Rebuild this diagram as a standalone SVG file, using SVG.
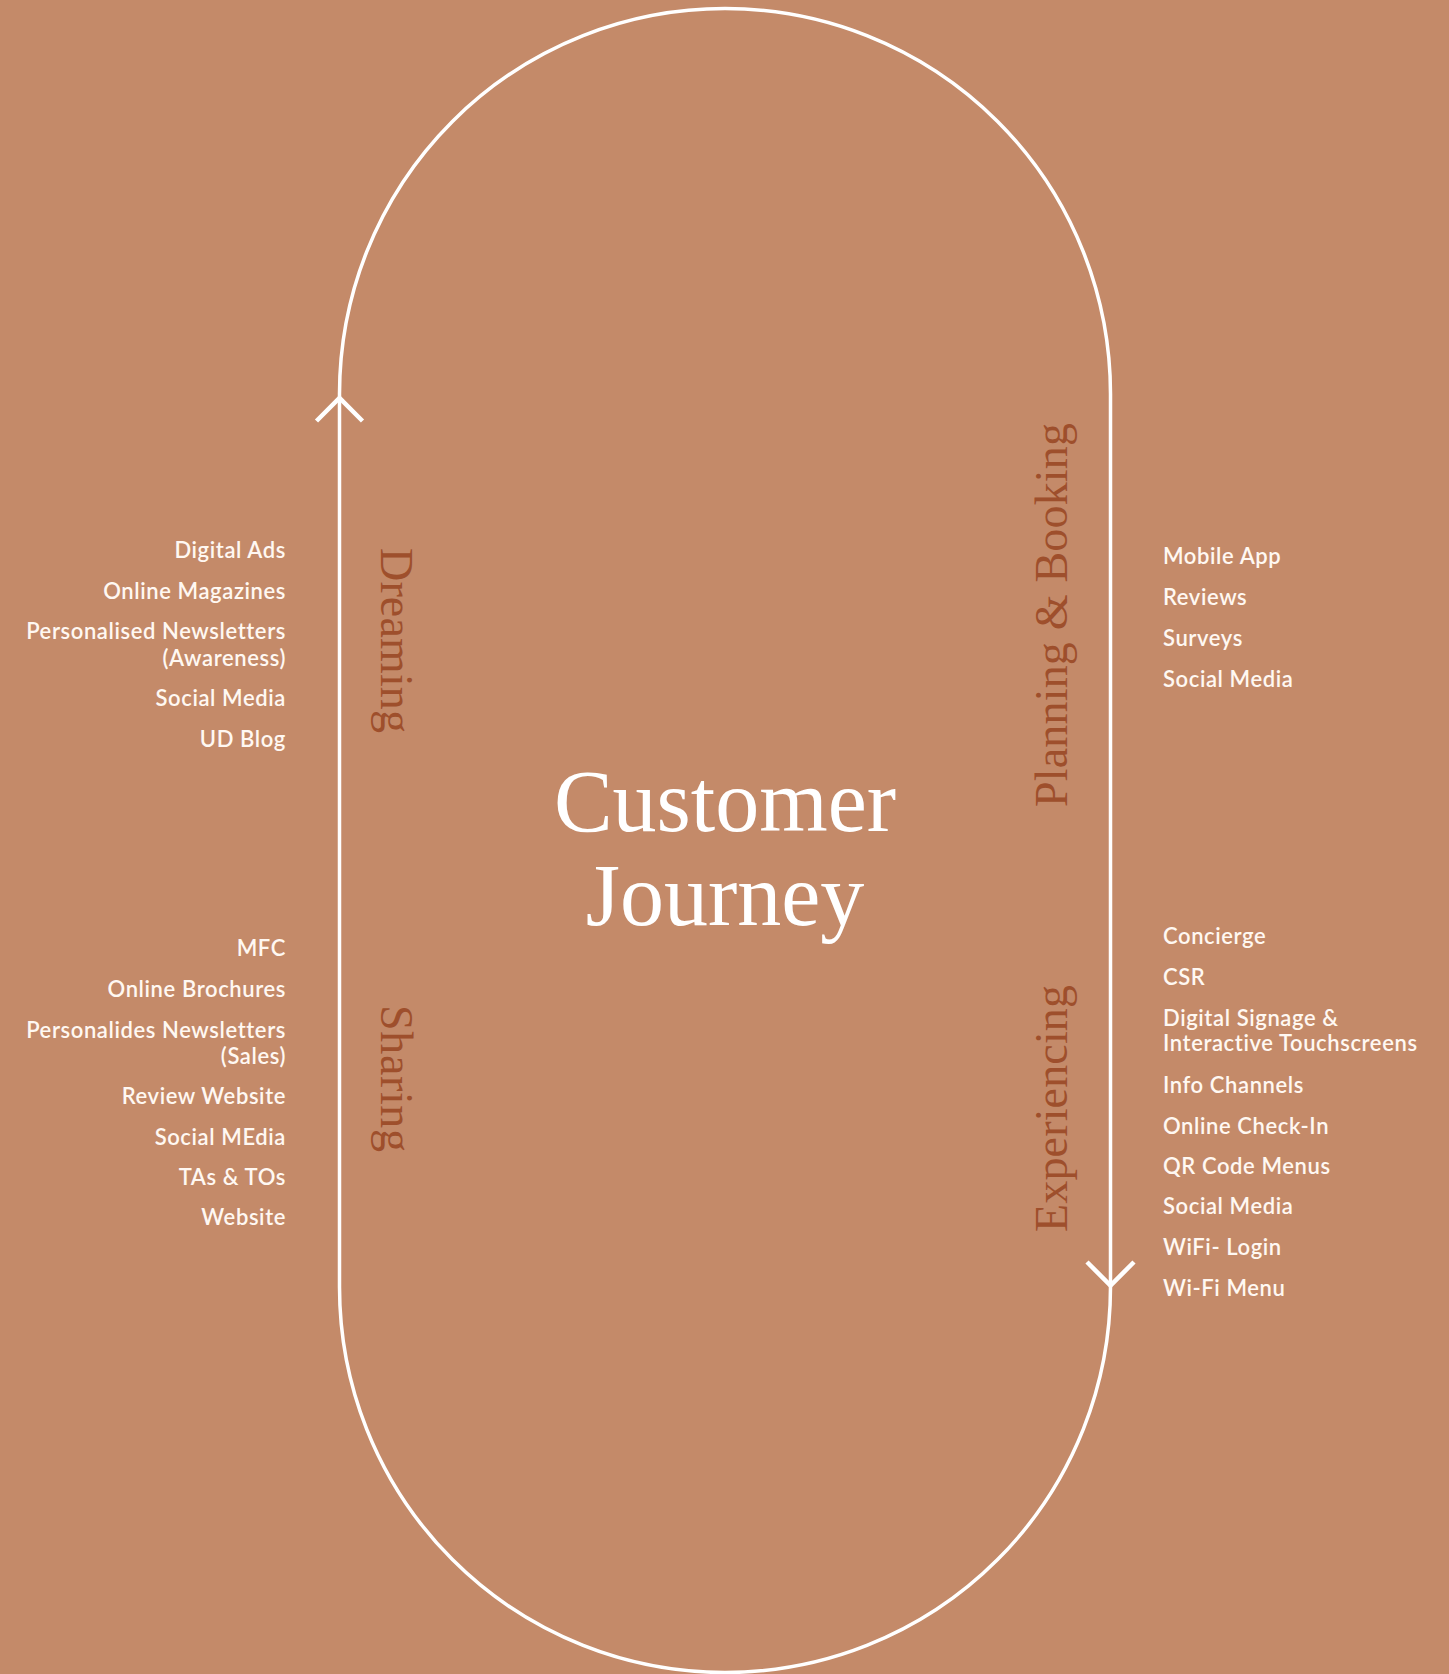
<svg xmlns="http://www.w3.org/2000/svg" width="1449" height="1674" viewBox="0 0 1449 1674">
<style>
.bg{fill:#C48A69}
.track{fill:none;stroke:#FFFFFF;stroke-width:3.5}
.arrow{fill:none;stroke:#FFFFFF;stroke-width:4.5;stroke-linecap:butt;stroke-linejoin:miter}
.item{font-family:"Lato","Liberation Sans",sans-serif;font-weight:600;font-size:22px;fill:#FFF8F2;letter-spacing:0.6px}
.left{text-anchor:end}
.stage{font-family:"Liberation Serif","DejaVu Serif",serif;font-size:46px;fill:#9E4F2C}
.title{font-family:"Liberation Serif","DejaVu Serif",serif;font-size:88px;fill:#FFFFFF;text-anchor:middle}
</style>
<rect class="bg" x="0" y="0" width="1449" height="1674"/>
<g id="connectors">
<path class="track" d="M 339.5 394 A 385.5 385.5 0 0 1 1110.5 394 L 1110.5 1287 A 385.5 385.5 0 0 1 339.5 1287 Z"/>
<polyline class="arrow" points="316.5,421 339.5,398 362.5,421"/>
<polyline class="arrow" points="1087,1262 1110.5,1285.5 1134,1262"/>
</g>
<g id="title">
<text class="title" x="725" y="831">Customer</text>
<text class="title" x="725" y="925">Journey</text>
</g>
<g id="dreaming">
<text class="stage" transform="translate(381,548) rotate(90)" textLength="185">Dreaming</text>
<g class="item left">
<text x="286" y="558">Digital Ads</text>
<text x="286" y="599">Online Magazines</text>
<text x="286" y="639">Personalised Newsletters</text>
<text x="286" y="666">(Awareness)</text>
<text x="286" y="706">Social Media</text>
<text x="286" y="747">UD Blog</text>
</g>
</g>
<g id="sharing">
<text class="stage" transform="translate(381,1005) rotate(90)" textLength="147">Sharing</text>
<g class="item left">
<text x="286" y="956">MFC</text>
<text x="286" y="997">Online Brochures</text>
<text x="286" y="1038">Personalides Newsletters</text>
<text x="286" y="1064">(Sales)</text>
<text x="286" y="1104">Review Website</text>
<text x="286" y="1145">Social MEdia</text>
<text x="286" y="1185">TAs &amp; TOs</text>
<text x="286" y="1225">Website</text>
</g>
</g>
<g id="planning-booking">
<text class="stage" transform="translate(1067,807) rotate(-90)" textLength="384">Planning &amp; Booking</text>
<g class="item">
<text x="1163" y="564">Mobile App</text>
<text x="1163" y="605">Reviews</text>
<text x="1163" y="646">Surveys</text>
<text x="1163" y="687">Social Media</text>
</g>
</g>
<g id="experiencing">
<text class="stage" transform="translate(1067,1232) rotate(-90)" textLength="247">Experiencing</text>
<g class="item">
<text x="1163" y="944">Concierge</text>
<text x="1163" y="985">CSR</text>
<text x="1163" y="1026">Digital Signage &amp;</text>
<text x="1163" y="1051">Interactive Touchscreens</text>
<text x="1163" y="1093">Info Channels</text>
<text x="1163" y="1134">Online Check-In</text>
<text x="1163" y="1174">QR Code Menus</text>
<text x="1163" y="1214">Social Media</text>
<text x="1163" y="1255">WiFi- Login</text>
<text x="1163" y="1296">Wi-Fi Menu</text>
</g>
</g>
</svg>
